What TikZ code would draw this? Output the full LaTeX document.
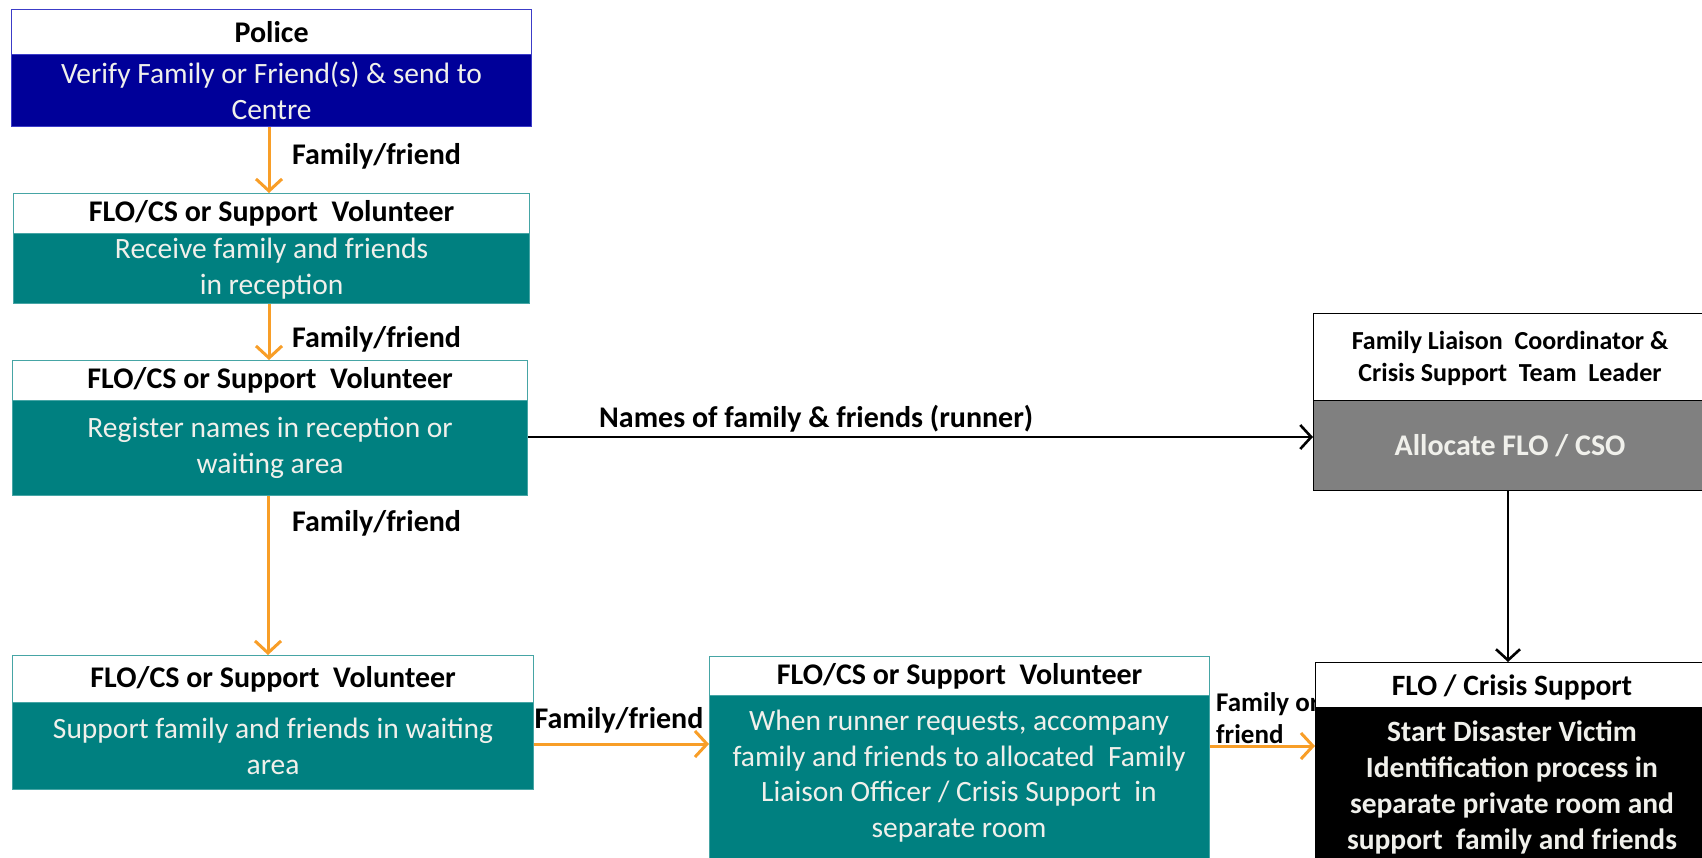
\documentclass[tikz,border=0pt]{standalone}
\usepackage{fontspec}
\setmainfont{Carlito}
\usetikzlibrary{arrows.meta}

\definecolor{navybody}{RGB}{0,0,153}
\definecolor{navyline}{RGB}{60,60,200}
\definecolor{tealbody}{RGB}{0,128,128}
\definecolor{tealline}{RGB}{70,165,165}
\definecolor{greybody}{RGB}{128,128,128}
\definecolor{flow}{RGB}{248,158,40}
\definecolor{boxtext}{RGB}{240,240,235}

\tikzset{
  hdr/.style={draw, fill=white, line width=1.2pt, anchor=north west, inner sep=0pt,
    align=center, text=black, font=\bfseries\fontsize{30}{34}\selectfont},
  bdy/.style={draw, line width=1.2pt, anchor=north west, inner sep=0pt,
    align=center, text=boxtext, font=\fontsize{29.5}{36}\selectfont},
  boxtxt/.style={anchor=center, inner sep=0pt, align=center, text=boxtext},
  famarrow/.style={draw=flow, line width=3pt,
    -{Straight Barb[length=12pt,width=26pt,line width=3pt]}},
  runarrow/.style={draw=black, line width=2.6pt,
    -{Straight Barb[length=11pt,width=24pt,line width=2.6pt]}},
  lab/.style={anchor=west, inner sep=0pt, font=\bfseries\fontsize{30}{34}\selectfont}
}

\begin{document}
\begin{tikzpicture}[x=1pt, y=-1pt]
\useasboundingbox (0,0) rectangle (1702,858);
\clip (0,0) rectangle (1702,858);

% Police
\node[hdr, draw=navyline, minimum width=520pt, minimum height=45pt] (policeH) at (11,9) {Police};
\node[bdy, draw=navyline, fill=navybody, minimum width=520pt, minimum height=72pt] (policeB) at (11,54)
  {Verify Family or Friend(s) \& send to\\Centre};

% Reception
\node[hdr, draw=tealline, minimum width=516pt, minimum height=40pt] (recH) at (13,193) {FLO/CS or Support\ \ Volunteer};
\node[bdy, draw=tealline, fill=tealbody, minimum width=516pt, minimum height=70pt] (recB) at (13,233)
  {Receive family and friends\\in reception};

% Registration
\node[hdr, draw=tealline, minimum width=515pt, minimum height=40pt] (regH) at (12,360) {FLO/CS or Support\ \ Volunteer};
\node[bdy, draw=tealline, fill=tealbody, minimum width=515pt, minimum height=95pt] (regB) at (12,400)
  {Register names in reception or\\waiting area};

% Waiting area
\node[hdr, draw=tealline, minimum width=521pt, minimum height=47pt] (waitH) at (12,655) {FLO/CS or Support\ \ Volunteer};
\node[bdy, draw=tealline, fill=tealbody, minimum width=521pt, minimum height=87pt] (waitB) at (12,702)
  {Support family and friends in waiting\\area};

% Accompany
\node[hdr, draw=tealline, minimum width=500pt, minimum height=39pt] (accH) at (709,656) {FLO/CS or Support\ \ Volunteer};
\node[bdy, draw=tealline, fill=tealbody, minimum width=500pt, minimum height=190pt] (accB) at (709,695) {};
\node[boxtxt, font=\fontsize{29.5}{35.5}\selectfont] (accT) at (959,776)
  {When runner requests, accompany\\family and friends to allocated\ \ Family\\Liaison Officer / Crisis Support\ \ in\\separate room};

% Coordinator
\node[hdr, draw=black, minimum width=400pt, minimum height=87pt] (coordH) at (1313,313) {};
\node[anchor=center, inner sep=0pt, align=center, font=\bfseries\fontsize{26}{32}\selectfont] (coordT) at (1510,358)
  {Family Liaison\ \ Coordinator \&\\Crisis Support\ \ Team\ \ Leader};
\node[bdy, draw=black, fill=greybody, minimum width=400pt, minimum height=90pt] (coordB) at (1313,400) {};
\node[boxtxt, font=\bfseries\fontsize{30}{36}\selectfont] (coordL) at (1510,446)
  {Allocate FLO / CSO};

% Label of the hand-over arrow, partly covered by the FLO box
\node[anchor=north west, inner sep=0pt, align=left, font=\bfseries\fontsize{27}{32}\selectfont] (handlab) at (1216,692)
  {Family or\\friend};

% FLO / Crisis Support
\node[hdr, draw=black, minimum width=400pt, minimum height=45pt] (floH) at (1315,662) {};
\node[anchor=center, inner sep=0pt, font=\bfseries\fontsize{29.5}{34}\selectfont] (floT) at (1512,687) {FLO / Crisis Support};
\node[bdy, draw=black, fill=black, minimum width=400pt, minimum height=170pt] (floB) at (1315,707) {};
\node[boxtxt, font=\bfseries\fontsize{29.5}{36}\selectfont] (floBT) at (1512,787)
  {Start Disaster Victim\\Identification process in\\separate private room and\\support\ \ family and friends};

% Family / friend hand-overs
\draw[famarrow] (policeB.south -| 269,0) -- (recH.north -| 269,0);
\node[lab] (l1) at (292,156) {Family/friend};
\draw[famarrow] (recB.south -| 269,0) -- (regH.north -| 269,0);
\node[lab] (l2) at (292,339) {Family/friend};
\draw[famarrow] (regB.south -| 268,0) -- (waitH.north -| 268,0);
\node[lab] (l3) at (292,523) {Family/friend};
\draw[famarrow] (waitB.east |- 0,744) -- (accB.west |- 0,744);
\node[lab, anchor=center] (l4) at (619,720) {Family/friend};
\draw[famarrow] (accB.east |- 0,746) -- (floB.west |- 0,746);

% Runner messages
\draw[runarrow] (regB.east |- 0,437) -- (coordB.west |- 0,437);
\node[lab] (l5) at (599,419) {Names of family \& friends (runner)};
\draw[runarrow] (coordB.south -| 1508,0) -- (floH.north -| 1508,0);
\end{tikzpicture}
\end{document}
